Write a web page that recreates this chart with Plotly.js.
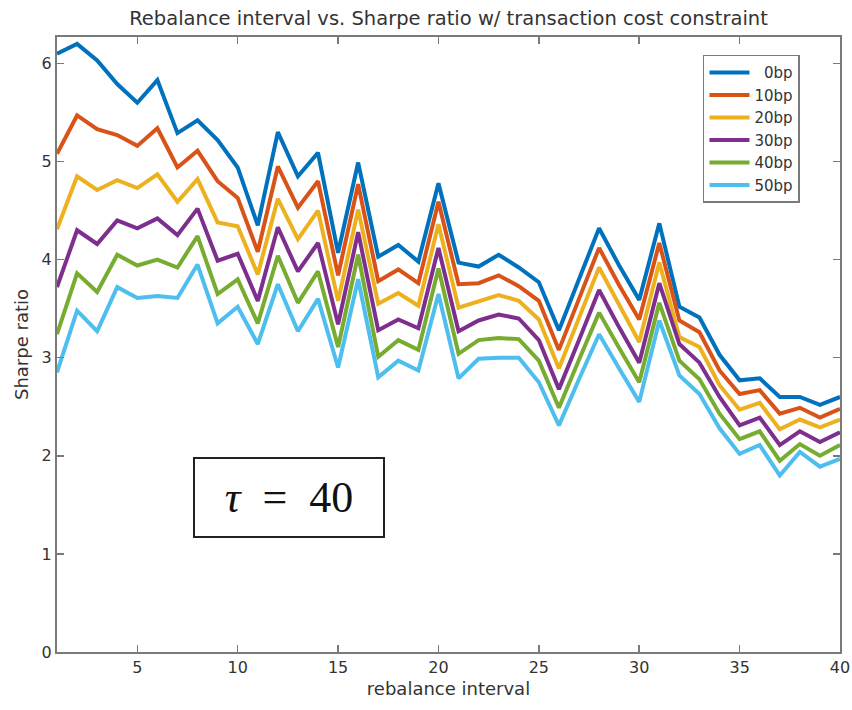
<!DOCTYPE html>
<html>
<head>
<meta charset="utf-8">
<script src="https://cdn.plot.ly/plotly-3.0.1.min.js"></script>
<style>
  html, body { margin: 0; padding: 0; background: #ffffff; }
  #chart { width: 852px; height: 710px; }
</style>
</head>
<body>
<div id="chart"></div>
<script>
// Rebalance interval (days) on the x axis
const rebalanceInterval = Array.from({length: 40}, (_, i) => i + 1);

// Sharpe ratio for each transaction cost level
const sharpe0bp = [6.10, 6.20, 6.03, 5.79, 5.60, 5.83, 5.29, 5.42, 5.22, 4.94,
                   4.35, 5.30, 4.85, 5.09, 4.07, 4.99, 4.03, 4.15, 3.98, 4.78,
                   3.97, 3.93, 4.05, 3.92, 3.77, 3.28, 3.80, 4.32, 3.94, 3.59,
                   4.37, 3.52, 3.41, 3.03, 2.77, 2.79, 2.60, 2.60, 2.52, 2.60];
const sharpe10bp = [5.08, 5.47, 5.33, 5.27, 5.16, 5.34, 4.94, 5.11, 4.80, 4.63,
                    4.08, 4.95, 4.53, 4.80, 3.84, 4.77, 3.78, 3.90, 3.76, 4.59,
                    3.75, 3.76, 3.84, 3.73, 3.58, 3.08, 3.60, 4.12, 3.74, 3.39,
                    4.17, 3.38, 3.26, 2.87, 2.63, 2.67, 2.43, 2.49, 2.39, 2.48];
const sharpe20bp = [4.31, 4.85, 4.71, 4.81, 4.73, 4.87, 4.59, 4.82, 4.38, 4.34,
                    3.85, 4.62, 4.21, 4.50, 3.58, 4.51, 3.55, 3.66, 3.53, 4.36,
                    3.51, 3.58, 3.64, 3.58, 3.39, 2.89, 3.40, 3.92, 3.54, 3.16,
                    3.97, 3.21, 3.11, 2.72, 2.47, 2.54, 2.27, 2.37, 2.29, 2.37];
const sharpe30bp = [3.72, 4.30, 4.16, 4.40, 4.32, 4.42, 4.25, 4.52, 3.99, 4.06,
                    3.58, 4.33, 3.88, 4.17, 3.34, 4.28, 3.28, 3.39, 3.30, 4.12,
                    3.27, 3.38, 3.44, 3.40, 3.18, 2.68, 3.18, 3.69, 3.31, 2.95,
                    3.76, 3.14, 2.95, 2.60, 2.31, 2.39, 2.11, 2.25, 2.14, 2.24];
const sharpe40bp = [3.24, 3.86, 3.67, 4.05, 3.94, 4.00, 3.92, 4.24, 3.65, 3.80,
                    3.35, 4.04, 3.56, 3.88, 3.11, 4.05, 3.01, 3.18, 3.08, 3.91,
                    3.04, 3.18, 3.20, 3.19, 2.97, 2.49, 2.98, 3.46, 3.10, 2.75,
                    3.56, 2.97, 2.78, 2.43, 2.17, 2.25, 1.95, 2.12, 2.00, 2.11];
const sharpe50bp = [2.85, 3.48, 3.27, 3.72, 3.61, 3.63, 3.61, 3.95, 3.35, 3.52,
                    3.14, 3.75, 3.27, 3.60, 2.90, 3.80, 2.80, 2.97, 2.87, 3.65,
                    2.79, 2.99, 3.00, 3.00, 2.75, 2.31, 2.78, 3.24, 2.89, 2.55,
                    3.38, 2.82, 2.63, 2.28, 2.02, 2.11, 1.80, 2.04, 1.89, 1.97];

const seriesNames = ['0bp', '10bp', '20bp', '30bp', '40bp', '50bp'];
const seriesValues = [sharpe0bp, sharpe10bp, sharpe20bp, sharpe30bp, sharpe40bp, sharpe50bp];
const seriesColors = ['#0072BD', '#D95319', '#EDB120', '#7E2F8E', '#77AC30', '#4DBEEE'];

const uiFont = 'DejaVu Sans, Noto Sans, sans-serif';
const axisGray = '#7a7a7a';
const textColor = '#333333';

const traces = seriesValues.map((vals, k) => ({
  x: rebalanceInterval,
  y: vals,
  type: 'scatter',
  mode: 'lines',
  // pad the single-digit label so the legend text lines up on the right
  name: (seriesNames[k].length === 3 ? '\u2007' : '') + seriesNames[k],
  line: {color: seriesColors[k], width: 4},
  hoverinfo: 'x+y+name'
}));

const commonAxis = {
  showgrid: false,
  zeroline: false,
  showline: true,
  linecolor: axisGray,
  linewidth: 2,
  mirror: 'ticks',
  ticks: 'inside',
  ticklen: 7,
  tickwidth: 1.5,
  tickcolor: axisGray,
  tickfont: {family: uiFont, size: 16, color: textColor}
};

const layout = {
  width: 852,
  height: 710,
  margin: {l: 57, r: 12, t: 37, b: 58},
  paper_bgcolor: '#ffffff',
  plot_bgcolor: '#ffffff',
  showlegend: true,
  title: {
    text: 'Rebalance interval vs. Sharpe ratio w/ transaction cost constraint',
    font: {family: uiFont, size: 19.5, color: textColor},
    x: 0.5, xref: 'paper', xanchor: 'center',
    y: 1 - 18 / 710, yref: 'container', yanchor: 'middle'
  },
  xaxis: Object.assign({}, commonAxis, {
    range: [1, 40],
    tick0: 0,
    dtick: 5,
    title: {text: 'rebalance interval', font: {family: uiFont, size: 18, color: textColor}, standoff: 6}
  }),
  yaxis: Object.assign({}, commonAxis, {
    range: [0, 6.27],
    tick0: 0,
    dtick: 1,
    title: {text: 'Sharpe ratio', font: {family: uiFont, size: 18, color: textColor}, standoff: 8}
  }),
  legend: {
    x: 0.825, xanchor: 'left',
    y: 0.971, yanchor: 'top',
    bgcolor: '#ffffff',
    bordercolor: axisGray,
    borderwidth: 1.5,
    itemwidth: 40,
    font: {family: uiFont, size: 15, color: textColor},
    tracegroupgap: 0
  },
  annotations: [{
    xref: 'paper', yref: 'paper',
    x: 0.296, y: 0.252,
    xanchor: 'center', yanchor: 'middle',
    text: '<i>\u03c4</i>\u00a0\u00a0=\u00a0\u00a040',
    showarrow: false,
    font: {family: 'Liberation Serif, DejaVu Serif, serif', size: 44, color: '#111111'},
    bgcolor: '#ffffff',
    bordercolor: '#222222',
    borderwidth: 2,
    borderpad: 2,
    width: 184,
    height: 73
  }]
};

Plotly.newPlot('chart', traces, layout, {displayModeBar: false, staticPlot: true});
</script>
</body>
</html>
